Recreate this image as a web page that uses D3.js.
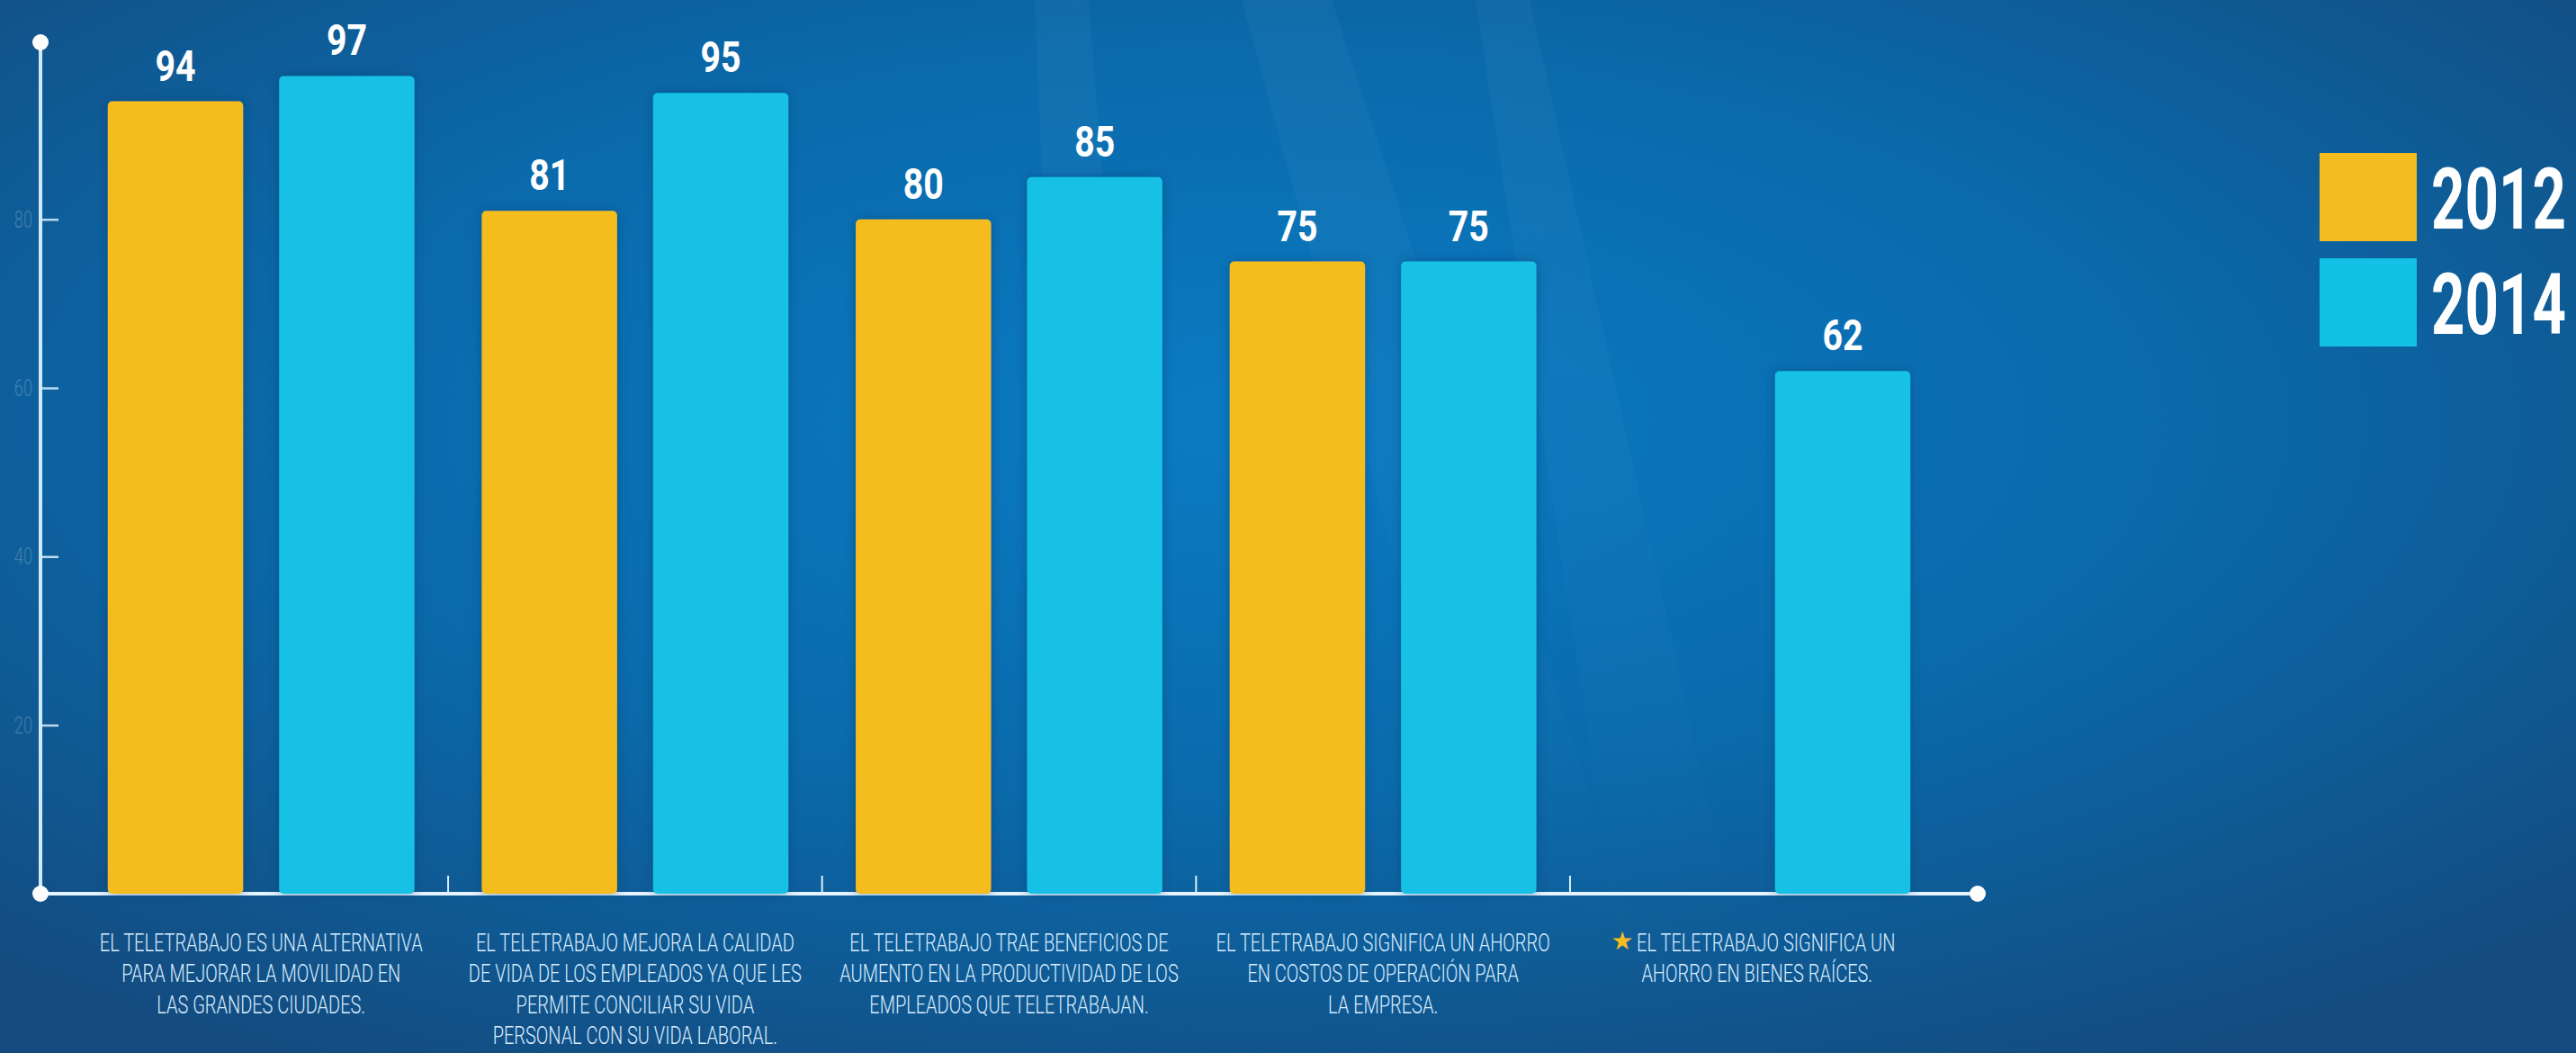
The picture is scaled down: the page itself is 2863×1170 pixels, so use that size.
<!DOCTYPE html>
<html>
<head>
<meta charset="utf-8">
<script src="https://cdn.jsdelivr.net/npm/d3@7"></script>
<style>
    html, body { margin: 0; padding: 0; overflow: hidden; background: #0d5a96; }
    #chart svg { display: block; }
</style>
</head>
<body>
<div id="chart"></div>
<script>
// data
var categories = ["movilidad", "calidad", "productividad", "costos", "bienes"];
var series = ["2012", "2014"];
var values2012 = [94, 81, 80, 75, null];
var values2014 = [97, 95, 85, 75, 62];
var yTicks = [20, 40, 60, 80];
var labelLines = [
    ["EL TELETRABAJO ES UNA ALTERNATIVA", "PARA MEJORAR LA MOVILIDAD EN", "LAS GRANDES CIUDADES."],
    ["EL TELETRABAJO MEJORA LA CALIDAD", "DE VIDA DE LOS EMPLEADOS YA QUE LES", "PERMITE CONCILIAR SU VIDA", "PERSONAL CON SU VIDA LABORAL."],
    ["EL TELETRABAJO TRAE BENEFICIOS DE", "AUMENTO EN LA PRODUCTIVIDAD DE LOS", "EMPLEADOS QUE TELETRABAJAN."],
    ["EL TELETRABAJO SIGNIFICA UN AHORRO", "EN COSTOS DE OPERACIÓN PARA", "LA EMPRESA."],
    ["EL TELETRABAJO SIGNIFICA UN", "AHORRO EN BIENES RAÍCES."]
];
var starred = [false, false, false, false, true];

var colors = { "2012": "#f4bc1e", "2014": "#12c1e5" };
var font = "Roboto, 'Open Sans', 'DejaVu Sans', sans-serif";

var svgWidth = 2863;
var svgHeight = 1170;

// squeeze a text horizontally around its anchor
function squeeze(sel, ratio) {
    sel.each(function() {
        var t = d3.select(this);
        var x = +t.attr("x") || 0;
        t.attr("transform", `translate(${x}, 0) scale(${ratio}, 1) translate(${-x}, 0)`);
    });
}

var svg = d3.select("#chart")
    .append("svg")
    .attr("width", svgWidth)
    .attr("height", svgHeight);

// background
var defs = svg.append("defs");
var bg = defs.append("radialGradient")
    .attr("id", "bg")
    .attr("cx", "48%").attr("cy", "40%").attr("r", "72%");
bg.append("stop").attr("offset", "0%").attr("stop-color", "#0a7bc3");
bg.append("stop").attr("offset", "50%").attr("stop-color", "#0a6aab");
bg.append("stop").attr("offset", "100%").attr("stop-color", "#144a7d");

var ray = defs.append("linearGradient")
    .attr("id", "ray").attr("x1", "0").attr("x2", "0").attr("y1", "0").attr("y2", "1");
ray.append("stop").attr("offset", "0%").attr("stop-color", "#ffffff").attr("stop-opacity", 0.035);
ray.append("stop").attr("offset", "100%").attr("stop-color", "#ffffff").attr("stop-opacity", 0);

var shadow = defs.append("filter").attr("id", "shadow")
    .attr("x", "-20%").attr("y", "-20%").attr("width", "140%").attr("height", "140%");
shadow.append("feDropShadow")
    .attr("dx", 0).attr("dy", 0).attr("stdDeviation", 6)
    .attr("flood-color", "#063a6e").attr("flood-opacity", 0.5);

svg.append("rect")
    .attr("width", svgWidth)
    .attr("height", svgHeight)
    .attr("fill", "url(#bg)");

// a few faint light rays behind the bars
var rays = [[1380, 1480, 1700, 1860], [1640, 1700, 1820, 1960], [1150, 1210, 1200, 1300]];
svg.append("g").selectAll("polygon")
    .data(rays)
    .enter()
    .append("polygon")
    .attr("points", d => `${d[0]},0 ${d[1]},0 ${d[3]},${svgHeight} ${d[2]},${svgHeight}`)
    .attr("fill", "url(#ray)");

// scales
var xGroup = d3.scaleBand()
    .domain(categories)
    .range([45, 2198])
    .paddingInner(0.18)
    .paddingOuter(0.18);

var xBar = d3.scaleBand()
    .domain(series)
    .range([0, xGroup.bandwidth()])
    .paddingInner(0.21);

var yScale = d3.scaleLinear()
    .domain([0, 101])
    .range([993, 47]);

var baseY = yScale(0);
var topY = yScale(101);
var axisX = xGroup.range()[0];
var axisEnd = xGroup.range()[1];

// y axis ticks and labels
var leftAxis = d3.axisLeft(yScale)
    .tickValues(yTicks)
    .tickSizeInner(-20)
    .tickSizeOuter(0)
    .tickPadding(9);

var yAxis = svg.append("g")
    .attr("transform", `translate(${axisX}, 0)`)
    .call(leftAxis);

yAxis.select(".domain").remove();
yAxis.selectAll(".tick line")
    .attr("stroke", "#d9efff")
    .attr("stroke-opacity", 0.85)
    .attr("stroke-width", 2.5);
yAxis.selectAll(".tick text")
    .attr("fill", "#ffffff")
    .attr("fill-opacity", 0.22)
    .attr("font-family", font)
    .attr("font-size", 26)
    .attr("font-weight", 300)
    .call(squeeze, 0.7);

// axis lines
svg.append("line")
    .attr("x1", axisX).attr("x2", axisX)
    .attr("y1", topY).attr("y2", baseY)
    .attr("stroke", "#cfeaff")
    .attr("stroke-width", 4);

svg.append("line")
    .attr("x1", axisX).attr("x2", axisEnd)
    .attr("y1", baseY).attr("y2", baseY)
    .attr("stroke", "#e6f4ff")
    .attr("stroke-width", 4);

// group separators
var gap = xGroup.step() * xGroup.paddingInner();
svg.append("g").selectAll("line")
    .data(categories.slice(1))
    .enter()
    .append("line")
    .attr("x1", d => xGroup(d) - gap / 2)
    .attr("x2", d => xGroup(d) - gap / 2)
    .attr("y1", baseY - 20)
    .attr("y2", baseY)
    .attr("stroke", "#d9efff")
    .attr("stroke-width", 2);

// bars
var barData = [];
categories.forEach(function(c, i) {
    barData.push({ cat: c, year: "2012", value: values2012[i] });
    barData.push({ cat: c, year: "2014", value: values2014[i] });
});
barData = barData.filter(d => d.value != null);

svg.append("g")
    .selectAll("rect")
    .data(barData)
    .enter()
    .append("rect")
    .attr("x", d => xGroup(d.cat) + xBar(d.year))
    .attr("y", d => yScale(d.value))
    .attr("width", xBar.bandwidth())
    .attr("height", d => baseY - yScale(d.value))
    .attr("rx", 5)
    .attr("fill", d => colors[d.year])
    .attr("filter", "url(#shadow)");

// value labels
var valueText = svg.append("g")
    .selectAll("text")
    .data(barData)
    .enter()
    .append("text")
    .attr("x", d => xGroup(d.cat) + xBar(d.year) + xBar.bandwidth() / 2)
    .attr("y", d => yScale(d.value) - 23)
    .attr("text-anchor", "middle")
    .attr("fill", "#ffffff")
    .attr("font-family", font)
    .attr("font-weight", "bold")
    .attr("font-size", 49)
    .text(d => d.value);
valueText.call(squeeze, 45 / valueText.node().getComputedTextLength());

// dots at the axis ends
svg.append("g")
    .selectAll("circle")
    .data([[axisX, topY], [axisX, baseY], [axisEnd, baseY]])
    .enter()
    .append("circle")
    .attr("cx", d => d[0])
    .attr("cy", d => d[1])
    .attr("r", 9)
    .attr("fill", "#ffffff");

// category labels, one text per line, squeezed like the condensed face of the original
var lineData = [];
labelLines.forEach(function(lines, i) {
    lines.forEach(function(line, j) {
        lineData.push({ cat: categories[i], idx: i, row: j, text: line });
    });
});

var labelText = svg.append("g")
    .selectAll("text")
    .data(lineData)
    .enter()
    .append("text")
    .attr("x", d => xGroup(d.cat) + xGroup.bandwidth() / 2 + (starred[d.idx] && d.row == 0 ? 10 : 0))
    .attr("y", d => 1057 + d.row * 34.5)
    .attr("text-anchor", "middle")
    .attr("fill", "#d8edff")
    .attr("font-family", font)
    .attr("font-weight", 300)
    .attr("font-size", 27)
    .text(d => d.text);

var labelRatio = 359 / labelText.node().getComputedTextLength();
labelText.call(squeeze, labelRatio);

// star in front of the last label
labelText.filter(d => starred[d.idx] && d.row == 0).each(function(d) {
    var w = this.getComputedTextLength() * labelRatio;
    var cx = +d3.select(this).attr("x");
    svg.append("text")
        .attr("x", cx - w / 2 - 16)
        .attr("y", 1055)
        .attr("text-anchor", "middle")
        .attr("fill", "#f4bc1e")
        .attr("font-family", "'DejaVu Sans', sans-serif")
        .attr("font-size", 28)
        .text("★");
});

// legend
var legend = svg.append("g")
    .selectAll("g")
    .data(series)
    .enter()
    .append("g")
    .attr("transform", (d, i) => `translate(2578, ${170 + i * 117})`);

legend.append("rect")
    .attr("width", 108)
    .attr("height", 98)
    .attr("fill", d => colors[d]);

var legendText = legend.append("text")
    .attr("x", 124)
    .attr("y", 84)
    .attr("fill", "#ffffff")
    .attr("font-family", font)
    .attr("font-weight", "bold")
    .attr("font-size", 94)
    .text(d => d);
legendText.call(squeeze, 150 / legendText.node().getComputedTextLength());
</script>
</body>
</html>
